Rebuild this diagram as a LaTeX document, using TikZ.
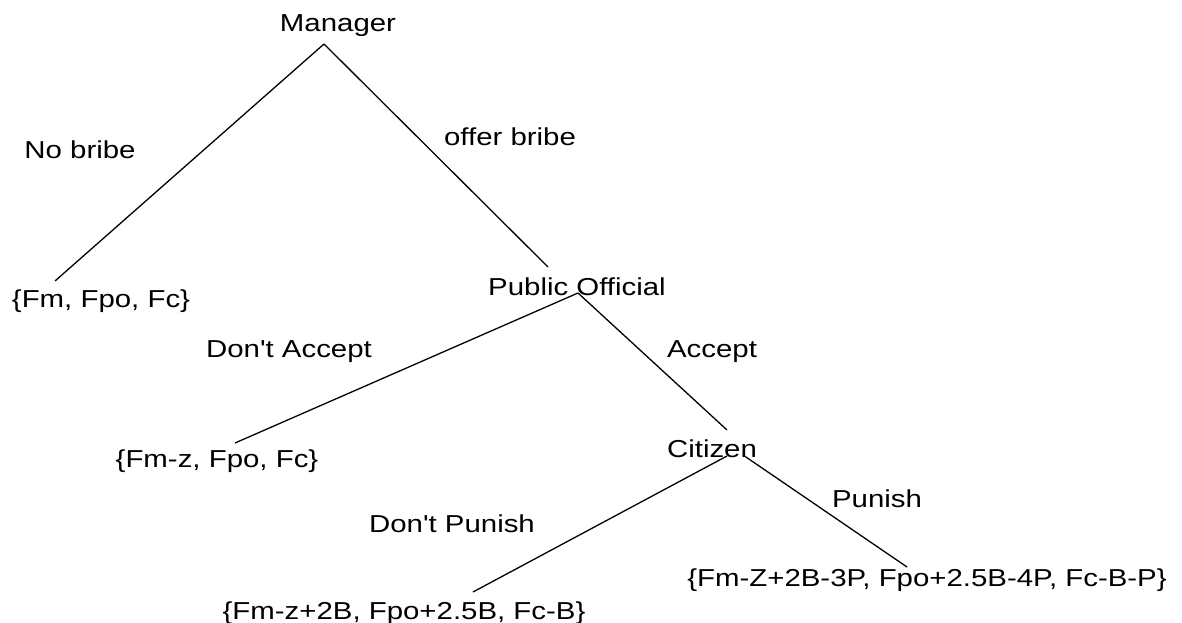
\documentclass[tikz,border=0pt]{standalone}
\usepackage{fontspec}
\setmainfont{Liberation Sans}[FakeStretch=1.2, Ligatures=TeXOff]
\usepackage{tikz}

\begin{document}
\begin{tikzpicture}[x=1pt, y=-1pt, line width=1.3pt]
    \tikzset{txt/.style={anchor=base, inner sep=0pt, font=\fontsize{24.5}{29}\selectfont}}
    \useasboundingbox (0,0) rectangle (1182,623);
    \node [txt] (mgr) at (338,32) {Manager};
    \node [txt] (nobribe) at (80,158) {No bribe};
    \node [txt] (offer) at (510,145) {offer bribe};
    \node [txt] (payA) at (101,307) {\{Fm, Fpo, Fc\}};
    \node [txt] (po) at (577,295) {Public Official};
    \node [txt] (dacc) at (289,357) {Don't Accept};
    \node [txt] (acc) at (712,357) {Accept};
    \node [txt] (payB) at (217,467) {\{Fm-z, Fpo, Fc\}};
    \node [txt] (cit) at (712,457) {Citizen};
    \node [txt] (dpun) at (452,532) {Don't Punish};
    \node [txt] (pun) at (877,507) {Punish};
    \node [txt] (payC) at (404,619) {\{Fm-z+2B, Fpo+2.5B, Fc-B\}};
    \node [txt] (payD) at (927,586) {\{Fm-Z+2B-3P, Fpo+2.5B-4P, Fc-B-P\}};
    \coordinate (mgrT) at (324,44);
    \coordinate (payAT) at (55,281);
    \coordinate (poB) at (548,267);
    \coordinate (poT) at (578,293);
    \coordinate (payBT) at (235,443);
    \coordinate (citB) at (727,430);
    \coordinate (citL) at (727,456);
    \coordinate (citR) at (743,455);
    \coordinate (payCT) at (473,592);
    \coordinate (payDT) at (907,567);
    \draw (mgrT) -- (payAT);
    \draw (mgrT) -- (poB);
    \draw (poT) -- (payBT);
    \draw (poT) -- (citB);
    \draw (citL) -- (payCT);
    \draw (citR) -- (payDT);
\end{tikzpicture}
\end{document}
